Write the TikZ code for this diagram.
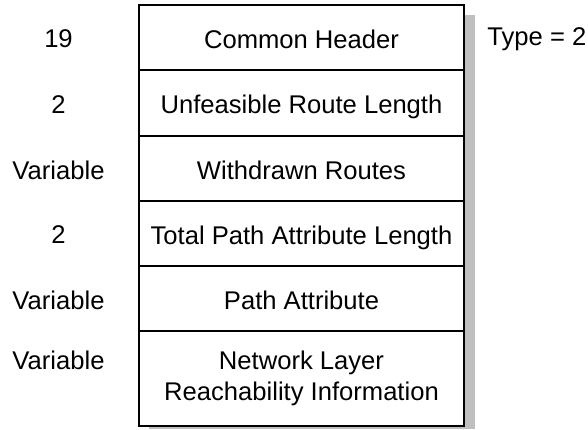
\documentclass[tikz,border=0pt]{standalone}
\usepackage{fontspec}
\setmainfont{Liberation Sans}
\begin{document}
\begin{tikzpicture}[x=0.5pt, y=-0.5pt,
	field/.style = {draw, line width = 0.85pt, rectangle, minimum width = 162.5pt, minimum height = 32.6pt, inner sep = 0pt, align = center, fill = white, font = \fontsize{12.8}{15.6}\selectfont},
	oneline/.style = {text height = 10.6pt, text depth = 0pt},
	size/.style = {font = \fontsize{12.8}{15.6}\selectfont, inner sep = 0pt}]
				\useasboundingbox (0,0) rectangle (588,429);
				\fill[black!25] (149,15) rectangle (475,429);
				\node (hdr) at (301.5, 37.5) [field, oneline] {Common Header};
				\node (url) at (301.5, 103) [field, oneline] {Unfeasible Route Length};
				\node (wr) at (301.5, 168.5) [field, oneline] {Withdrawn Routes};
				\node (tpal) at (301.5, 233.5) [field, oneline] {Total Path Attribute Length};
				\node (pa) at (301.5, 298.5) [field, oneline] {Path Attribute};
				\node (nlri) at (301.5, 378.5) [field, minimum height = 47.5pt] {Network Layer\\Reachability Information};
				\node (Lhdr) at (58.5, 39) [size] {19};
				\node (Lurl) at (58.5, 104.5) [size] {2};
				\node (Lwr) at (58.5, 170) [size] {Variable};
				\node (Ltpal) at (58.5, 235) [size] {2};
				\node (Lpa) at (58.5, 300) [size] {Variable};
				\node (Lnlri) at (58.5, 360) [size] {Variable};
				\node (type) at (487, 39) [size, anchor = west] {Type = 2};
				\end{tikzpicture}
\end{document}
